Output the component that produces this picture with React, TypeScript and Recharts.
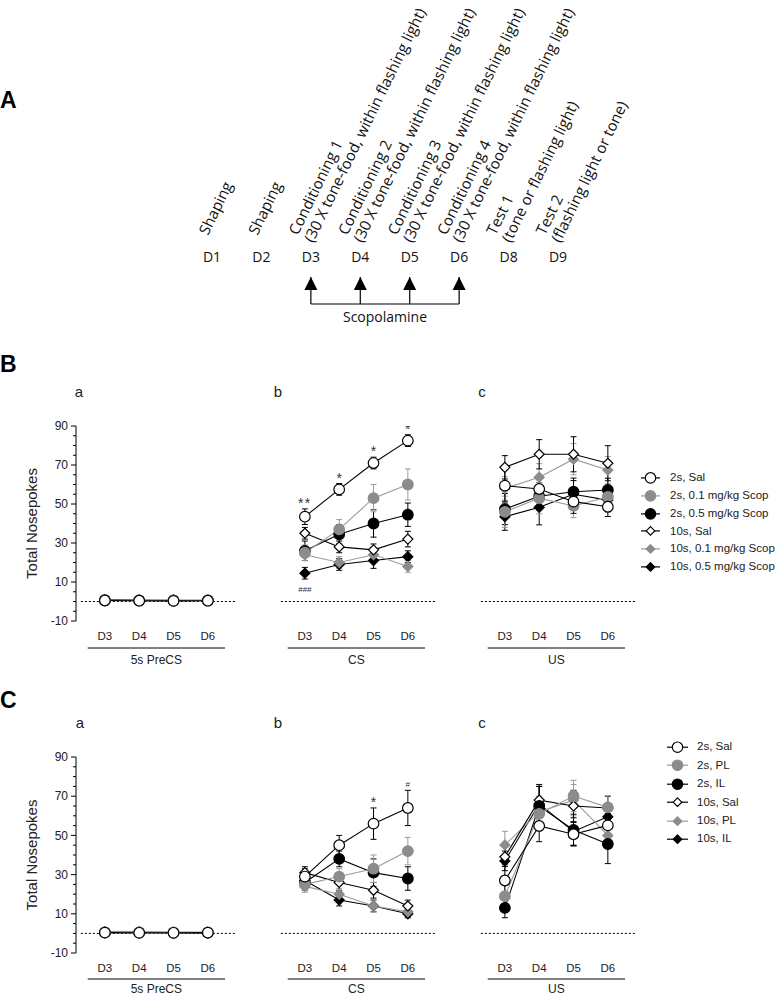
import React from 'react';
import { ComposedChart, Line, XAxis, YAxis, ErrorBar, ReferenceLine, Legend, Scatter, Label } from 'recharts';

// ---------- Panel A (timeline) ----------
const timelineDays = ['D1', 'D2', 'D3', 'D4', 'D5', 'D6', 'D8', 'D9'];
const timelineLine1 = ['Shaping', 'Shaping', 'Conditioning 1', 'Conditioning 2', 'Conditioning 3', 'Conditioning 4', 'Test 1', 'Test 2'];
const timelineLine2 = [
  '', '',
  '(30 X tone-food, within flashing light)',
  '(30 X tone-food, within flashing light)',
  '(30 X tone-food, within flashing light)',
  '(30 X tone-food, within flashing light)',
  '(tone or flashing light)',
  '(flashing light or tone)',
];
const scopDays = ['D3', 'D4', 'D5', 'D6'];
const drugLabel = 'Scopolamine';

// ---------- Panels B & C ----------
const DAY_NUMS = [3, 4, 5, 6];
const DAY_LABELS = ['D3', 'D4', 'D5', 'D6'];
const Y_MAJOR = [-10, 10, 30, 50, 70, 90];
const Y_TICKS = [-10, -5, 0, 5, 10, 15, 20, 25, 30, 35, 40, 45, 50, 55, 60, 65, 70, 75, 80, 85, 90];
const GROUPS = ['5s PreCS', 'CS', 'US'];

const seriesB = ['2s, Sal', '2s, 0.1 mg/kg Scop', '2s, 0.5 mg/kg Scop', '10s, Sal', '10s, 0.1 mg/kg Scop', '10s, 0.5 mg/kg Scop'];
const seriesC = ['2s, Sal', '2s, PL', '2s, IL', '10s, Sal', '10s, PL', '10s, IL'];

// B a : 5s PreCS
const bPreMeans = [
  [0.5, 0.4, 0.3, 0.4],
  [0.6, 0.5, 0.4, 0.5],
  [0.7, 0.6, 0.5, 0.6],
  [0.5, 0.5, 0.4, 0.5],
  [0.6, 0.4, 0.5, 0.4],
  [0.7, 0.6, 0.6, 0.5],
];
const bPreErrs = [
  [0.5, 0.4, 0.4, 0.4],
  [0.5, 0.4, 0.4, 0.4],
  [0.6, 0.5, 0.4, 0.5],
  [0.4, 0.4, 0.4, 0.4],
  [0.5, 0.4, 0.4, 0.4],
  [0.6, 0.5, 0.5, 0.4],
];
// B b : CS
const bCsMeans = [
  [43.5, 57.5, 71, 82.5],
  [25, 37, 53, 60],
  [26, 34.5, 40, 44.5],
  [35, 28, 26.5, 32],
  [24, 20, 24, 18],
  [14.5, 19, 21, 23],
];
const bCsErrs = [
  [4, 3, 3, 3],
  [4, 5, 7, 8],
  [5, 5, 7, 6],
  [3, 3, 3, 4],
  [3, 3, 3, 3],
  [3, 3, 4, 3],
];
const bCsAbove = ['**', '*', '*', '*'];
const bCsBelow = ['###', '', '', ''];
// B c : US
const bUsMeans = [
  [59.4, 57.7, 51.2, 48.6],
  [46, 53, 49, 53.7],
  [47.4, 54, 56.3, 57.2],
  [68.8, 75.5, 75.5, 70.9],
  [58, 63.7, 73, 67.4],
  [43.5, 48.3, 55, 52],
];
const bUsErrs = [
  [8, 7, 6, 5],
  [8, 8, 6, 6],
  [8, 7, 7, 6],
  [6, 7.5, 9, 9],
  [6, 7, 8, 7],
  [7, 9, 7, 6],
];
// C a : 5s PreCS
const cPreMeans = [
  [0.4, 0.3, 0.3, 0.4],
  [0.5, 0.4, 0.4, 0.5],
  [0.5, 0.5, 0.4, 0.4],
  [0.4, 0.4, 0.5, 0.4],
  [0.5, 0.4, 0.4, 0.5],
  [0.6, 0.5, 0.4, 0.4],
];
const cPreErrs = [
  [0.4, 0.3, 0.3, 0.4],
  [0.4, 0.4, 0.4, 0.4],
  [0.4, 0.4, 0.4, 0.4],
  [0.4, 0.4, 0.4, 0.4],
  [0.4, 0.4, 0.4, 0.4],
  [0.5, 0.4, 0.4, 0.4],
];
// C b : CS
const cCsMeans = [
  [29, 45, 56, 64],
  [25, 29, 33, 42],
  [26, 38, 31, 28],
  [31, 26, 22, 14],
  [24, 20, 14, 11],
  [27, 17, 14, 10],
];
const cCsErrs = [
  [4, 5, 8, 9],
  [3, 4, 7, 7],
  [4, 4, 7, 6],
  [3, 4, 4, 3],
  [3, 3, 3, 2],
  [3, 3, 3, 2],
];
const cCsAbove = ['', '', '*', '#'];
const cCsBelow = ['', '', '', ''];
// C c : US
const cUsMeans = [
  [27, 54.8, 50.6, 55.1],
  [19, 61, 70.1, 64.3],
  [13, 65, 52.8, 45.6],
  [39.1, 68, 65, 64],
  [45.1, 62, 68, 50],
  [37, 66, 52, 59.5],
];
const cUsErrs = [
  [8, 8, 6, 6],
  [8, 8, 8, 6],
  [5, 10, 8, 10],
  [5, 8, 8, 6],
  [7, 8, 8, 6],
  [5, 9, 7, 6],
];
const NONE4 = ['', '', '', ''];

// ---------- styles ----------
const FONT = '"Liberation Sans", Arial, sans-serif';
const FONT_A = '"Open Sans", "DejaVu Sans", sans-serif';
const GRAY = '#8c8c8c';
const GRAY_LINE = '#9a9a9a';
const STYLES = [
  { shape: 'circle', fill: '#fff', stroke: '#000', line: '#000' },
  { shape: 'circle', fill: GRAY, stroke: GRAY, line: GRAY_LINE },
  { shape: 'circle', fill: '#000', stroke: '#000', line: '#000' },
  { shape: 'diamond', fill: '#fff', stroke: '#000', line: '#000' },
  { shape: 'diamond', fill: GRAY, stroke: GRAY, line: GRAY_LINE },
  { shape: 'diamond', fill: '#000', stroke: '#000', line: '#000' },
];
const DRAW_ORDER = [5, 4, 3, 2, 1, 0];
const LO = 2.159;
const HI = 6.82;
const DOT_LO = 2.3;

function Marker({ cx, cy, k, r = 5.3, d = 5 }: any) {
  const s = STYLES[k];
  if (cx == null || cy == null || isNaN(cx) || isNaN(cy)) return <g />;
  if (s.shape === 'circle') {
    return <circle cx={cx} cy={cy} r={r} fill={s.fill} stroke={s.stroke} strokeWidth={1.2} />;
  }
  return (
    <polygon
      points={`${cx},${cy - d} ${cx + d},${cy} ${cx},${cy + d} ${cx - d},${cy}`}
      fill={s.fill}
      stroke={s.stroke}
      strokeWidth={1.2}
    />
  );
}

function buildRows(means: number[][], errs: number[][], above: string[], below: string[]) {
  return DAY_NUMS.map((x, i) => {
    const r: any = { x, day: DAY_LABELS[i] };
    means.forEach((s, k) => {
      r['m' + k] = s[i];
      r['e' + k] = errs[k][i];
    });
    r.aboveY = means[0][i] + errs[0][i];
    r.aboveT = above[i];
    r.belowY = means[5][i] - errs[5][i];
    r.belowT = below[i];
    return r;
  });
}

const YTick = (props: any) => {
  const { x, y, payload } = props;
  const v = payload.value;
  const major = Y_MAJOR.includes(v);
  return (
    <g>
      <line x1={x - (major ? 5 : 3)} x2={x} y1={y} y2={y} stroke="#000" strokeWidth={1} />
      {major && (
        <text x={x - 8} y={y} dy={4.2} textAnchor="end" fontSize={12} style={{ fill: '#222' }} fontFamily={FONT}>
          {v}
        </text>
      )}
    </g>
  );
};

const XTick = (props: any) => {
  const { x, y, payload } = props;
  const i = DAY_NUMS.indexOf(payload.value);
  return (
    <text x={x} y={y + 19} textAnchor="middle" fontSize={11.5} style={{ fill: '#222' }} fontFamily={FONT}>
      {DAY_LABELS[i]}
    </text>
  );
};

const groupLabel = (text: string, lineOff: number, textOff: number) => (props: any) => {
  const vb = props.viewBox || {};
  const px = (v: number) => vb.x + ((v - LO) / (HI - LO)) * vb.width;
  const x1 = px(2.5);
  const x2 = px(6.5);
  return (
    <g>
      <line x1={x1} x2={x2} y1={vb.y + lineOff} y2={vb.y + lineOff} stroke="#000" strokeWidth={1} />
      <text x={(x1 + x2) / 2} y={vb.y + textOff} textAnchor="middle" fontSize={12} style={{ fill: '#222' }} fontFamily={FONT}>
        {text}
      </text>
    </g>
  );
};

const yLabel = (props: any) => {
  const vb = props.viewBox || {};
  const cx = 32;
  const cy = vb.y + vb.height / 2;
  return (
    <text x={cx} y={cy} transform={`rotate(-90 ${cx} ${cy})`} textAnchor="middle" dy={5} fontSize={15} style={{ fill: '#222' }} fontFamily={FONT}>
      Total Nosepokes
    </text>
  );
};

const noteShape = (field: string, below: boolean) => (props: any) => {
  const { cx, cy, payload } = props;
  const t = payload ? payload[field] : '';
  if (!t) return <g />;
  const small = t.indexOf('#') >= 0;
  return (
    <text
      x={cx}
      y={below ? cy + (small ? 13 : 14) : cy - (small ? 3 : 1)}
      textAnchor="middle"
      fontSize={small ? 8 : 14}
      letterSpacing={t === '**' ? 1.5 : 0}
      style={{ fill: '#333' }}
      fontFamily={FONT}
    >
      {t}
    </text>
  );
};

const makeLegend = (cfg: any) => (props: any) => {
  const items = (props.payload || [])
    .filter((e: any) => /^m\d$/.test(String(e.dataKey)))
    .map((e: any) => ({ k: Number(String(e.dataKey).slice(1)), name: e.value }))
    .sort((a: any, b: any) => a.k - b.k);
  return (
    <div>
      {items.map((it: any) => (
        <div key={it.k} style={{ display: 'flex', alignItems: 'center', height: cfg.rowH }}>
          <svg width={cfg.symW} height={cfg.rowH} style={{ display: 'block', overflow: 'visible' }}>
            <line x1={0} x2={cfg.symW} y1={cfg.rowH / 2} y2={cfg.rowH / 2} stroke={STYLES[it.k].line} strokeWidth={1.2} />
            <Marker cx={cfg.symW / 2} cy={cfg.rowH / 2} k={it.k} r={5.2} d={4.3} />
          </svg>
          <span style={{ marginLeft: cfg.gap, fontSize: 11.5, fontFamily: FONT, color: '#1a1a1a', whiteSpace: 'nowrap', lineHeight: 1 }}>
            {it.name}
          </span>
        </div>
      ))}
    </div>
  );
};

function Subpanel(p: any) {
  const rows = buildRows(p.means, p.errs, p.above, p.below);
  return (
    <div style={{ position: 'absolute', left: p.left, top: p.top }}>
      <ComposedChart
        width={p.width}
        height={p.height}
        data={rows}
        margin={{ top: 26, right: p.width - 236, bottom: 9, left: p.showY ? 40 : 76 }}
      >
        <XAxis
          dataKey="x"
          type="number"
          domain={[LO, HI]}
          allowDataOverflow
          ticks={DAY_NUMS}
          interval={0}
          axisLine={false}
          tickLine={false}
          tickSize={0}
          tickMargin={0}
          height={60}
          tick={XTick}
        >
          <Label content={groupLabel(p.group, p.lineOff, p.textOff)} />
        </XAxis>
        <YAxis
          type="number"
          domain={[-10, 90]}
          allowDataOverflow
          ticks={Y_TICKS}
          interval={0}
          hide={!p.showY}
          width={36}
          tickSize={0}
          tickMargin={0}
          tickLine={false}
          axisLine={{ stroke: '#000', strokeWidth: 1 }}
          tick={YTick}
        >
          {p.showY ? <Label content={yLabel} /> : null}
        </YAxis>
        <ReferenceLine segment={[{ x: DOT_LO, y: 0 }, { x: HI, y: 0 }]} stroke="#000" strokeWidth={1} strokeDasharray="2 2" />
        {DRAW_ORDER.map((k: number) => (
          <Line
            key={k}
            dataKey={'m' + k}
            name={p.names[k]}
            stroke={STYLES[k].line}
            strokeWidth={1.1}
            isAnimationActive={false}
            activeDot={false}
            dot={(dp: any) => <Marker key={'d' + k + '-' + dp.index} cx={dp.cx} cy={dp.cy} k={k} />}
          >
            <ErrorBar dataKey={'e' + k} width={3} stroke={STYLES[k].line} strokeWidth={1} direction="y" />
          </Line>
        ))}
        <Scatter dataKey="aboveY" legendType="none" isAnimationActive={false} shape={noteShape('aboveT', false)} />
        <Scatter dataKey="belowY" legendType="none" isAnimationActive={false} shape={noteShape('belowT', true)} />
        {p.legend ? (
          <Legend
            layout="vertical"
            align="center"
            verticalAlign="middle"
            wrapperStyle={{ left: p.legend.left, top: p.legend.top, width: 150 }}
            content={makeLegend(p.legend)}
          />
        ) : null}
      </ComposedChart>
    </div>
  );
}

const TimelineTick = (props: any) => {
  const { x, y, payload } = props;
  const i = timelineDays.indexOf(payload.value);
  const l1 = timelineLine1[i];
  const l2 = timelineLine2[i];
  const sx = x + (l2 ? -13 : -4);
  const sy = y - 41;
  return (
    <g>
      <text x={x} y={y - 15} textAnchor="middle" fontSize={14} fontFamily={FONT_A} style={{ fill: '#111' }}>
        {payload.value}
      </text>
      <text transform={`rotate(-64 ${sx} ${sy})`} x={sx} y={sy} fontSize={15.2} fontFamily={FONT_A} style={{ fill: '#111' }}>
        <tspan x={sx} dy={0}>{l1}</tspan>
        {l2 ? <tspan x={sx} dy={17}>{l2}</tspan> : null}
      </text>
    </g>
  );
};

const arrowShape = (props: any) => {
  const { cx, cy, payload } = props;
  if (!payload || payload.arrow !== 1) return <g />;
  return <polygon points={`${cx},${cy} ${cx + 6.5},${cy + 13} ${cx - 6.5},${cy + 13}`} fill="#000" />;
};

function Timeline() {
  const rows = timelineDays.map((d) => ({ day: d, arrow: scopDays.includes(d) ? 1 : 0 }));
  return (
    <div style={{ position: 'absolute', left: 0, top: 0 }}>
      <ComposedChart width={775} height={330} data={rows} margin={{ top: 237, right: 217, bottom: 26, left: 212 }}>
        <XAxis
          dataKey="day"
          type="category"
          orientation="top"
          height={40}
          axisLine={false}
          tickLine={false}
          tickSize={0}
          tickMargin={0}
          interval={0}
          tick={TimelineTick}
        />
        <YAxis hide type="number" domain={[0, 1]} />
        {scopDays.map((d) => (
          <ReferenceLine key={d} segment={[{ x: d, y: 0 }, { x: d, y: 1 }]} stroke="#000" strokeWidth={1.2} />
        ))}
        <ReferenceLine
          segment={[{ x: scopDays[0], y: 0 }, { x: scopDays[scopDays.length - 1], y: 0 }]}
          stroke="#000"
          strokeWidth={1.2}
          label={{ value: drugLabel, position: 'bottom', offset: 8, fontSize: 14, fill: '#111', fontFamily: FONT_A }}
        />
        <Scatter dataKey="arrow" legendType="none" isAnimationActive={false} shape={arrowShape} />
      </ComposedChart>
    </div>
  );
}

export default function App() {
  return (
    <div style={{ position: 'absolute', left: 0, top: 0, width: 775, height: 995, background: '#fff', overflow: 'hidden' }}>
      <svg width={775} height={995} style={{ position: 'absolute', left: 0, top: 0 }}>
        <text x={0} y={108} fontSize={23} fontWeight="bold" fontFamily={FONT} fill="#000">A</text>
        <text x={0} y={372} fontSize={23} fontWeight="bold" fontFamily={FONT} fill="#000">B</text>
        <text x={0} y={708} fontSize={23} fontWeight="bold" fontFamily={FONT} fill="#000">C</text>
        <text x={79} y={397} fontSize={15} textAnchor="middle" fontFamily={FONT} fill="#222">a</text>
        <text x={278} y={397} fontSize={15} textAnchor="middle" fontFamily={FONT} fill="#222">b</text>
        <text x={482} y={397} fontSize={15} textAnchor="middle" fontFamily={FONT} fill="#222">c</text>
        <text x={80} y={728} fontSize={15} textAnchor="middle" fontFamily={FONT} fill="#222">a</text>
        <text x={278} y={728} fontSize={15} textAnchor="middle" fontFamily={FONT} fill="#222">b</text>
        <text x={482} y={728} fontSize={15} textAnchor="middle" fontFamily={FONT} fill="#222">c</text>
      </svg>
      <Timeline />
      <Subpanel left={0} top={400} width={250} height={290} showY means={bPreMeans} errs={bPreErrs} names={seriesB} group={GROUPS[0]} above={NONE4} below={NONE4} lineOff={27} textOff={43} />
      <Subpanel left={200} top={400} width={250} height={290} showY={false} means={bCsMeans} errs={bCsErrs} names={seriesB} group={GROUPS[1]} above={bCsAbove} below={bCsBelow} lineOff={27} textOff={43} />
      <Subpanel
        left={400}
        top={400}
        width={375}
        height={290}
        showY={false}
        means={bUsMeans}
        errs={bUsErrs}
        names={seriesB}
        group={GROUPS[2]}
        above={NONE4}
        below={NONE4}
        lineOff={27}
        textOff={43}
        legend={{ left: 241, top: 69, rowH: 17.8, symW: 19, gap: 10 }}
      />
      <Subpanel left={0} top={731} width={250} height={291} showY means={cPreMeans} errs={cPreErrs} names={seriesC} group={GROUPS[0]} above={NONE4} below={NONE4} lineOff={26} textOff={40} />
      <Subpanel left={200} top={731} width={250} height={291} showY={false} means={cCsMeans} errs={cCsErrs} names={seriesC} group={GROUPS[1]} above={cCsAbove} below={cCsBelow} lineOff={26} textOff={40} />
      <Subpanel
        left={400}
        top={731}
        width={375}
        height={291}
        showY={false}
        means={cUsMeans}
        errs={cUsErrs}
        names={seriesC}
        group={GROUPS[2]}
        above={NONE4}
        below={NONE4}
        lineOff={26}
        textOff={40}
        legend={{ left: 267, top: 7, rowH: 18.4, symW: 21, gap: 9 }}
      />
    </div>
  );
}
